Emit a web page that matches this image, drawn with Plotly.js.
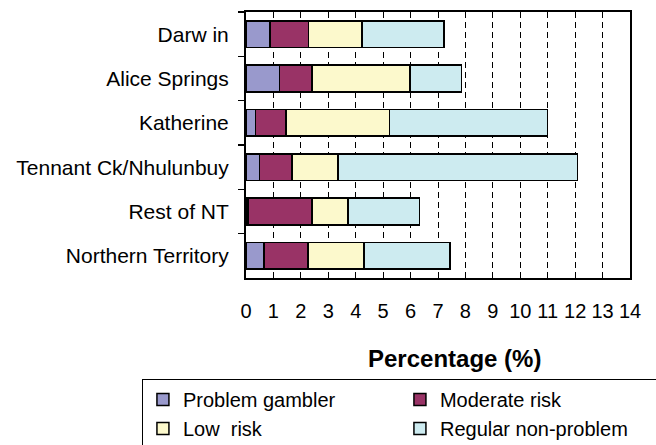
<!DOCTYPE html>
<html>
<head>
<meta charset="utf-8">
<script src="https://cdn.plot.ly/plotly-3.0.1.min.js"></script>
<style>html,body{margin:0;padding:0;background:#fff;}#chart{width:656px;height:445px;}</style>
</head>
<body>
<div id="chart"></div>
<script>
var regions = ["Darw in", "Alice Springs", "Katherine", "Tennant Ck/Nhulunbuy", "Rest of NT", "Northern Territory"];
var problemGambler = [0.87, 1.23, 0.35, 0.50, 0.07, 0.66];
var moderateRisk   = [1.40, 1.17, 1.11, 1.17, 2.33, 1.60];
var lowRisk        = [1.95, 3.57, 3.77, 1.68, 1.31, 2.04];
var regularNonProblem = [2.99, 1.89, 5.77, 8.74, 2.62, 3.13];
var seriesNames = ["Problem gambler", "Moderate risk", "Low  risk", "Regular non-problem"];
var xTicks = [0,1,2,3,4,5,6,7,8,9,10,11,12,13,14];

var colors = ["#9999CC", "#993366", "#FCF9CC", "#CDEBF0"];
var values = [problemGambler, moderateRisk, lowRisk, regularNonProblem];
var FONT = "Liberation Sans, Arial, sans-serif";

var traces = values.map(function(v, i){
  return {
    type: "bar", orientation: "h",
    x: v, y: regions, name: seriesNames[i],
    marker: {color: colors[i], line: {color: "#000", width: 1.5}},
    hoverinfo: "x+y+name"
  };
});

var layout = {
  width: 656, height: 445,
  paper_bgcolor: "#fff", plot_bgcolor: "#fff",
  margin: {l: 246, r: 26, t: 12, b: 167, autoexpand: false},
  barmode: "stack", bargap: 0.4,
  font: {family: FONT, size: 20, color: "#000"},
  xaxis: {
    range: [0, 14], tickmode: "array", tickvals: xTicks, ticktext: xTicks.map(String),
    showgrid: true, gridcolor: "#000", gridwidth: 1, griddash: "6px,4px",
    zeroline: false, showline: true, mirror: true, linecolor: "#000", linewidth: 2,
    ticks: "", ticklabelstandoff: 14, tickfont: {size: 20}
  },
  yaxis: {
    type: "category", autorange: "reversed",
    showgrid: false, zeroline: false, showline: true, mirror: true, linecolor: "#000", linewidth: 2,
    ticks: "outside", tickson: "boundaries", ticklen: 6, tickwidth: 1.5, tickcolor: "#000",
    ticklabelstandoff: 11, tickfont: {size: 21}
  },
  legend: {
    orientation: "h", x: -0.271, xanchor: "left", y: -0.38, yanchor: "top",
    bordercolor: "#000", borderwidth: 1, bgcolor: "#fff",
    font: {family: FONT, size: 20}, entrywidth: 212, traceorder: "normal"
  },
  annotations: [{
    text: "<b>Percentage (%)</b>", xref: "paper", yref: "paper",
    x: 0.5417, y: -0.3008, xanchor: "center", yanchor: "middle",
    showarrow: false, font: {family: FONT, size: 24, color: "#000"}
  }]
};

Plotly.newPlot("chart", traces, layout, {displayModeBar: false, staticPlot: true});
</script>
</body>
</html>
